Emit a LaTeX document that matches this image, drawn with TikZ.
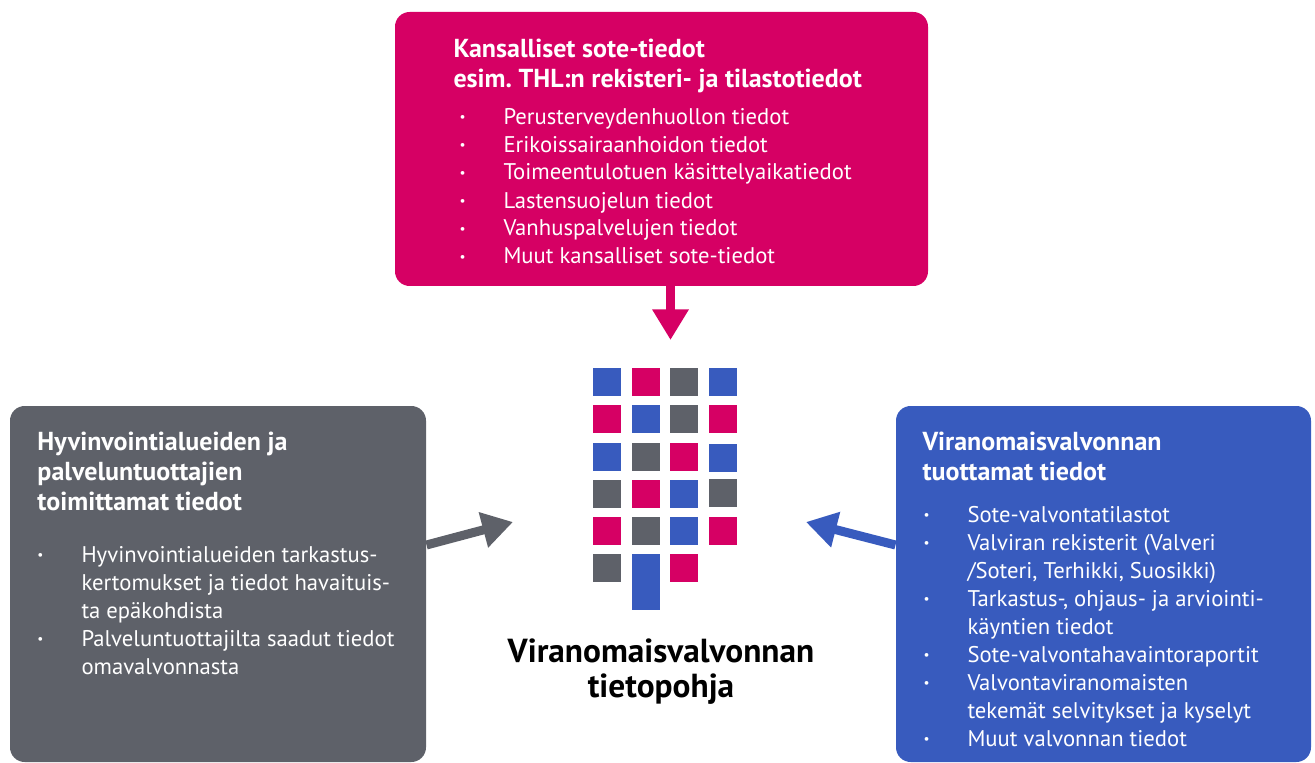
\documentclass[tikz,border=0pt]{standalone}
\usepackage{fontspec}
\setmainfont{PT Sans}
\usetikzlibrary{arrows.meta}
\frenchspacing

\definecolor{sotered}{RGB}{214,0,100}
\definecolor{sotegrey}{RGB}{94,97,105}
\definecolor{soteblue}{RGB}{56,91,190}

\newcommand{\itm}{\makebox[33pt][l]{\raisebox{2pt}{\fontsize{10}{10}\selectfont\textbullet}}}
\newcommand{\ind}{\hspace*{33pt}}

\tikzset{every picture/.style={line width=0.75pt}}
\tikzset{
  infobox/.style={rounded corners=11pt, inner sep=0pt},
  boxtitle/.style={anchor=base west, inner sep=0pt, align=left, text=white, font=\fontsize{19.5}{22.5}\selectfont\bfseries},
  boxlist/.style={anchor=base west, inner sep=0pt, align=left, text=white, font=\fontsize{17}{21}\selectfont},
  flowarrow/.style={line width=6.75pt, -{Triangle[length=23pt,width=26pt]}},
}

\begin{document}
\begin{tikzpicture}[x=0.75pt,y=0.75pt,yscale=-1,xscale=1]
\useasboundingbox (0,0) rectangle (1315,763);

%Shape: Rectangle [top]
\node[infobox, fill=sotered, minimum width=399.75pt, minimum height=205.5pt] (kansalliset) at (661.5,149) {};
%Shape: Rectangle [left]
\node[infobox, fill=sotegrey, minimum width=312pt, minimum height=267pt] (hyvinvointi) at (218,584) {};
%Shape: Rectangle [right]
\node[infobox, fill=soteblue, minimum width=311.25pt, minimum height=267pt] (valvonta) at (1103.5,584) {};

%Arrows
\coordinate (tipK) at (670.5,340);
\coordinate (tipH) at (513,522);
\coordinate (tipV) at (806,522);
\draw[flowarrow, sotered] (tipK |- kansalliset.south) -- (tipK);
\draw[flowarrow, sotegrey] ([yshift=-29.25pt]hyvinvointi.east) -- (tipH);
\draw[flowarrow, soteblue] ([yshift=-29.25pt]valvonta.west) -- (tipV);

%Shape: squares
\foreach \x/\y/\c in {593/368/soteblue, 632/368/sotered, 670/368/sotegrey, 709/368/soteblue,
                      593/405/sotered, 632/405/soteblue, 670/405/sotegrey, 709/405/sotered,
                      593/443/soteblue, 632/443/sotegrey, 670/443/sotered, 709/444/soteblue,
                      593/480/sotegrey, 632/480/sotered, 670/480/soteblue, 709/479/sotegrey,
                      593/517/sotered, 632/517/sotegrey, 670/517/soteblue, 709/517/sotered,
                      593/554/sotegrey, 670/554/sotered}
  \fill[\c] (\x,\y) rectangle ++(28,28);
\fill[soteblue] (632,554) rectangle (660,610);

% Text Node (anchored at the baseline of the last line)
\node[boxtitle] (kansTitle) at (453,88) {Kansalliset sote-tiedot\\esim. THL:n rekisteri- ja tilastotiedot};
% Text Node
\node[boxlist] (kansList) at (459,264) {\itm Perusterveydenhuollon tiedot\\
  \itm Erikoissairaanhoidon tiedot\\
  \itm Toimeentulotuen käsittelyaikatiedot\\
  \itm Lastensuojelun tiedot\\
  \itm Vanhuspalvelujen tiedot\\
  \itm Muut kansalliset sote-tiedot};
% Text Node
\node[boxtitle] (hyvTitle) at (37,510) {Hyvinvointialueiden ja\\palveluntuottajien\\toimittamat tiedot};
% Text Node
\node[boxlist] (hyvList) at (37,674) {\itm Hyvinvointialueiden tarkastus-\\
  \ind kertomukset ja tiedot havaituis-\\
  \ind ta epäkohdista\\
  \itm Palveluntuottajilta saadut tiedot\\
  \ind omavalvonnasta};
% Text Node
\node[boxtitle] (valTitle) at (922,480) {Viranomaisvalvonnan\\tuottamat tiedot};
% Text Node
\node[boxlist] (valList) at (923,746) {\itm Sote-valvontatilastot\\
  \itm Valviran rekisterit (Valveri\\
  \ind /Soteri, Terhikki, Suosikki)\\
  \itm Tarkastus-, ohjaus- ja arviointi-\\
  \ind käyntien tiedot\\
  \itm Sote-valvontahavaintoraportit\\
  \itm Valvontaviranomaisten\\
  \ind tekemät selvitykset ja kyselyt\\
  \itm Muut valvonnan tiedot};
% Text Node
\node[font=\fontsize{25}{26.25}\selectfont\bfseries, align=center, anchor=base, inner sep=0pt] (tietopohja) at (661,697) {Viranomaisvalvonnan\\tietopohja};

\end{tikzpicture}
\end{document}
